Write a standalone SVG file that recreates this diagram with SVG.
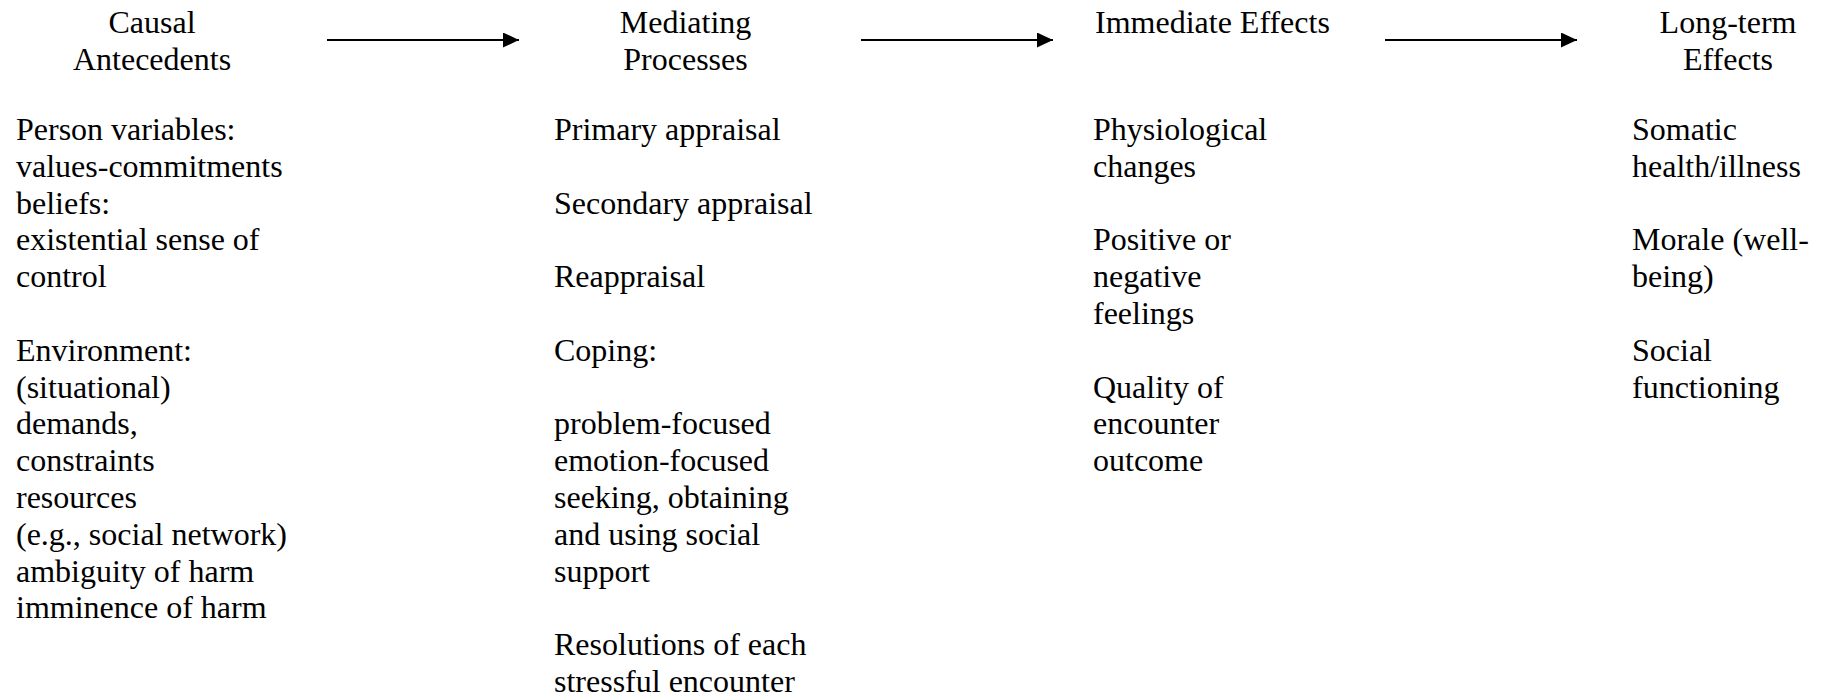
<svg xmlns="http://www.w3.org/2000/svg" width="1825" height="699" viewBox="0 0 1825 699">
<style>
text{font-family:"Liberation Serif","Times New Roman",serif;font-size:32px;fill:#000}
.h{text-anchor:middle}
.c line{stroke:#000;stroke-width:2}
</style>
<defs>
<marker id="ah" markerUnits="userSpaceOnUse" markerWidth="17" markerHeight="15" refX="16" refY="7.5" orient="auto">
<path d="M0,0 L16,7.5 L0,15 Z" fill="#000"/>
</marker>
</defs>
<rect width="1825" height="699" fill="#fff"/>
<g id="connectors" class="c">
<line x1="327" y1="40" x2="519" y2="40" marker-end="url(#ah)"/>
<line x1="861" y1="40" x2="1053" y2="40" marker-end="url(#ah)"/>
<line x1="1385" y1="40" x2="1577" y2="40" marker-end="url(#ah)"/>
</g>
<g id="causal-antecedents">
<text class="h" x="152" y="33">Causal</text>
<text class="h" x="152" y="70">Antecedents</text>
<text x="16" y="140">Person variables:</text>
<text x="16" y="176.8">values-commitments</text>
<text x="16" y="213.6">beliefs:</text>
<text x="16" y="250.4">existential sense of</text>
<text x="16" y="287.2">control</text>
<text x="16" y="360.8">Environment:</text>
<text x="16" y="397.6">(situational)</text>
<text x="16" y="434.4">demands,</text>
<text x="16" y="471.2">constraints</text>
<text x="16" y="508">resources</text>
<text x="16" y="544.8">(e.g., social network)</text>
<text x="16" y="581.6">ambiguity of harm</text>
<text x="16" y="618.4">imminence of harm</text>
</g>
<g id="mediating-processes">
<text class="h" x="685.5" y="33">Mediating</text>
<text class="h" x="685.5" y="70">Processes</text>
<text x="554" y="140">Primary appraisal</text>
<text x="554" y="213.6">Secondary appraisal</text>
<text x="554" y="287.2">Reappraisal</text>
<text x="554" y="360.8">Coping:</text>
<text x="554" y="434.4">problem-focused</text>
<text x="554" y="471.2">emotion-focused</text>
<text x="554" y="508">seeking, obtaining</text>
<text x="554" y="544.8">and using social</text>
<text x="554" y="581.6">support</text>
<text x="554" y="655.2">Resolutions of each</text>
<text x="554" y="692">stressful encounter</text>
</g>
<g id="immediate-effects">
<text x="1095" y="33">Immediate Effects</text>
<text x="1093" y="140">Physiological</text>
<text x="1093" y="176.8">changes</text>
<text x="1093" y="250.4">Positive or</text>
<text x="1093" y="287.2">negative</text>
<text x="1093" y="324">feelings</text>
<text x="1093" y="397.6">Quality of</text>
<text x="1093" y="434.4">encounter</text>
<text x="1093" y="471.2">outcome</text>
</g>
<g id="long-term-effects">
<text class="h" x="1728" y="33">Long-term</text>
<text class="h" x="1728" y="70">Effects</text>
<text x="1632" y="140">Somatic</text>
<text x="1632" y="176.8">health/illness</text>
<text x="1632" y="250.4">Morale (well-</text>
<text x="1632" y="287.2">being)</text>
<text x="1632" y="360.8">Social</text>
<text x="1632" y="397.6">functioning</text>
</g>
</svg>
